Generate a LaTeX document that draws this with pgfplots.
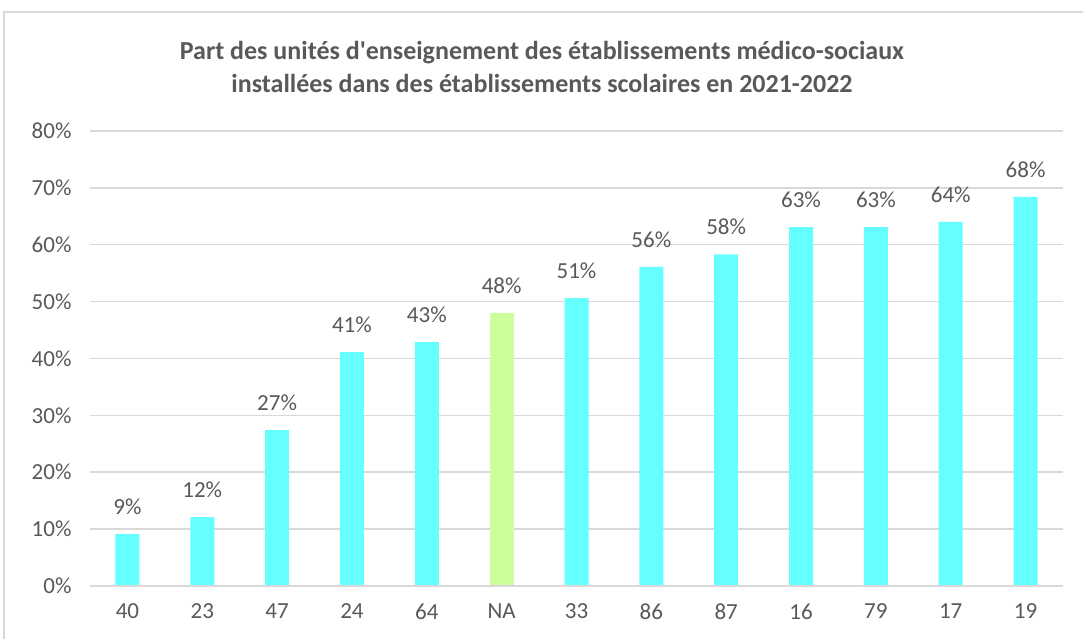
\documentclass[border=0pt]{standalone}
\usepackage{fontspec}
\setmainfont{Carlito}[Ligatures=TeXOff]
\usepackage{pgfplots}
\pgfplotsset{compat=1.18}
\definecolor{cyanbar}{HTML}{66FFFF}
\definecolor{greenbar}{HTML}{CCFF99}
\definecolor{gridc}{HTML}{D9D9D9}
\definecolor{txt}{HTML}{595959}
\begin{document}
\begin{tikzpicture}
\useasboundingbox (0pt,0pt) rectangle (1083pt,639pt);
\draw[gridc, line width=1.5pt] (4pt,0pt) -- (4pt,627pt) -- (1083pt,627pt);
\node[font=\fontsize{26}{33}\selectfont\bfseries, text=txt, align=center] at (542pt,572pt) {Part des unités d'enseignement des établissements médico-sociaux\\installées dans des établissements scolaires en 2021-2022};
\begin{axis}[
  at={(90pt,53pt)}, anchor=south west,
  scale only axis, width=973pt, height=455pt,
  xmin=-0.5, xmax=12.5, ymin=0, ymax=80,
  axis line style={draw=none},
  axis x line*=bottom,
  ytick={0,10,...,80},
  yticklabel={\pgfmathprintnumber{\tick}\%},
  xtick={0,...,12},
  xticklabels={40,23,47,24,64,NA,33,86,87,16,79,17,19},
  /pgf/number format/assume math mode=true,
  ymajorgrids, grid style={gridc, line width=1.5pt},
  major tick length=0pt,
  tick label style={font=\fontsize{23}{26}\selectfont, text=txt},
  yticklabel style={xshift=-15pt},
  xticklabel style={yshift=-14pt},
  ybar, bar width=24pt, bar shift=0pt,
  nodes near coords={\pgfplotspointmeta},
  point meta=explicit symbolic,
  every node near coord/.append style={font=\fontsize{23}{26}\selectfont, text=txt, yshift=16pt},
  clip=false,
]
\addplot[fill=cyanbar, draw=none] coordinates {
(0,9.1) [9\%]
(1,12.1) [12\%]
(2,27.4) [27\%]
(3,41.1) [41\%]
(4,42.9) [43\%]
(6,50.6) [51\%]
(7,56.1) [56\%]
(8,58.3) [58\%]
(9,63.1) [63\%]
(10,63.1) [63\%]
(11,64.0) [64\%]
(12,68.4) [68\%]
};
\addplot[fill=greenbar, draw=none] coordinates {
(5,48.0) [48\%]
};
\draw[gridc, line width=1.5pt] (axis cs:-0.5,0) -- (axis cs:12.5,0);
\end{axis}
\end{tikzpicture}
\end{document}
